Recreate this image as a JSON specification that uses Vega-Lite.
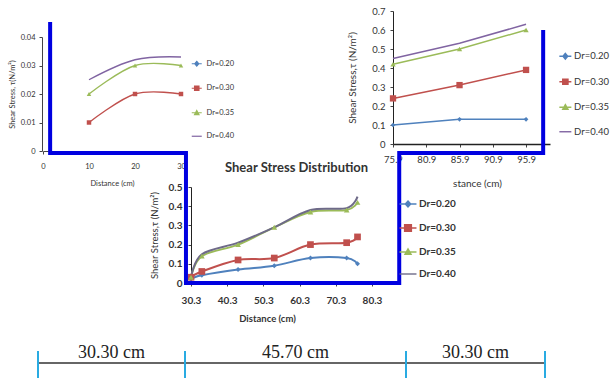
{
  "$schema": "https://vega.github.io/schema/vega-lite/v6.json",
  "width": 610,
  "height": 378,
  "autosize": {"type": "none"},
  "padding": 0,
  "background": "white",
  "config": {
    "view": {"stroke": null},
    "font": "Lato",
    "axis": {"grid": false, "domainColor": "#444", "tickColor": "#444", "labelColor": "#333", "titleColor": "#333", "labelFont": "Lato", "titleFont": "Lato", "tickSize": 3, "titleFontWeight": "normal", "labelOverlap": false, "labelFlush": false},
    "legend": {"labelFont": "Lato", "labelColor": "#333"}
  },
  "title": {"text": "Shear Stress Distribution", "anchor": "start", "frame": "group", "offset": 0, "dx": 225, "dy": 181, "baseline": "middle", "fontSize": 13, "fontWeight": "bold", "color": "#333", "font": "Lato"},
  "datasets": {
    "tl": [
      {"d": 10, "s": "Dr=0.30", "v": 0.010}, {"d": 20, "s": "Dr=0.30", "v": 0.020}, {"d": 30, "s": "Dr=0.30", "v": 0.020},
      {"d": 10, "s": "Dr=0.35", "v": 0.020}, {"d": 20, "s": "Dr=0.35", "v": 0.030}, {"d": 30, "s": "Dr=0.35", "v": 0.030},
      {"d": 10, "s": "Dr=0.40", "v": 0.025}, {"d": 20, "s": "Dr=0.40", "v": 0.032}, {"d": 30, "s": "Dr=0.40", "v": 0.033}
    ],
    "tr": [
      {"d": 75.9, "s": "Dr=0.20", "v": 0.10}, {"d": 85.9, "s": "Dr=0.20", "v": 0.13}, {"d": 95.9, "s": "Dr=0.20", "v": 0.13},
      {"d": 75.9, "s": "Dr=0.30", "v": 0.24}, {"d": 85.9, "s": "Dr=0.30", "v": 0.31}, {"d": 95.9, "s": "Dr=0.30", "v": 0.39},
      {"d": 75.9, "s": "Dr=0.35", "v": 0.42}, {"d": 85.9, "s": "Dr=0.35", "v": 0.50}, {"d": 95.9, "s": "Dr=0.35", "v": 0.60},
      {"d": 75.9, "s": "Dr=0.40", "v": 0.45}, {"d": 85.9, "s": "Dr=0.40", "v": 0.53}, {"d": 95.9, "s": "Dr=0.40", "v": 0.63}
    ],
    "mid": [
      {"d": 30.3, "s": "Dr=0.20", "v": 0.02}, {"d": 33.3, "s": "Dr=0.20", "v": 0.04}, {"d": 43.3, "s": "Dr=0.20", "v": 0.07}, {"d": 53.3, "s": "Dr=0.20", "v": 0.09}, {"d": 63.3, "s": "Dr=0.20", "v": 0.13}, {"d": 73.3, "s": "Dr=0.20", "v": 0.13}, {"d": 76.3, "s": "Dr=0.20", "v": 0.10},
      {"d": 30.3, "s": "Dr=0.30", "v": 0.03}, {"d": 33.3, "s": "Dr=0.30", "v": 0.06}, {"d": 43.3, "s": "Dr=0.30", "v": 0.12}, {"d": 53.3, "s": "Dr=0.30", "v": 0.13}, {"d": 63.3, "s": "Dr=0.30", "v": 0.20}, {"d": 73.3, "s": "Dr=0.30", "v": 0.21}, {"d": 76.3, "s": "Dr=0.30", "v": 0.24},
      {"d": 30.3, "s": "Dr=0.35", "v": 0.03}, {"d": 33.3, "s": "Dr=0.35", "v": 0.14}, {"d": 43.3, "s": "Dr=0.35", "v": 0.20}, {"d": 53.3, "s": "Dr=0.35", "v": 0.29}, {"d": 63.3, "s": "Dr=0.35", "v": 0.37}, {"d": 73.3, "s": "Dr=0.35", "v": 0.38}, {"d": 76.3, "s": "Dr=0.35", "v": 0.42},
      {"d": 30.3, "s": "Dr=0.40", "v": 0.03}, {"d": 33.3, "s": "Dr=0.40", "v": 0.15}, {"d": 43.3, "s": "Dr=0.40", "v": 0.21}, {"d": 53.3, "s": "Dr=0.40", "v": 0.29}, {"d": 63.3, "s": "Dr=0.40", "v": 0.38}, {"d": 73.3, "s": "Dr=0.40", "v": 0.39}, {"d": 76.3, "s": "Dr=0.40", "v": 0.45}
    ],
    "outline": [
      {"i": 0, "cm": 2.5, "lv": 356}, {"i": 1, "cm": 2.5, "lv": 225}, {"i": 2, "cm": 30.5, "lv": 225}, {"i": 3, "cm": 30.5, "lv": 95},
      {"i": 4, "cm": 74.6, "lv": 95}, {"i": 5, "cm": 74.6, "lv": 225}, {"i": 6, "cm": 105.9, "lv": 225}, {"i": 7, "cm": 105.9, "lv": 348}
    ],
    "ruler": [{"c0": 0, "c1": 106.3, "lv": 15}],
    "ticks": [{"cm": 0, "lo": 0, "hi": 27}, {"cm": 30.3, "lo": 0, "hi": 27}, {"cm": 76.0, "lo": 0, "hi": 27}, {"cm": 106.3, "lo": 0, "hi": 27}],
    "seglabels": [{"mid": 15.15, "lv": 20, "label": "30.30 cm"}, {"mid": 53.15, "lv": 20, "label": "45.70 cm"}, {"mid": 91.15, "lv": 20, "label": "30.30 cm"}]
  },
  "layer": [
    {
      "data": {"name": "tl"},
      "encoding": {
        "x": {"field": "d", "type": "quantitative", "scale": {"domain": [0, 30], "range": [43, 181], "nice": false, "zero": false},
              "axis": {"orient": "bottom", "offset": -227, "values": [0, 10, 20, 30], "format": "d", "labelFontSize": 7.5, "labelPadding": 8, "title": "Distance (cm)", "titleFontSize": 7.5, "titleY": 32, "titleBaseline": "middle"}},
        "y": {"field": "v", "type": "quantitative", "scale": {"domain": [0, 0.04], "range": [151, 37], "nice": false, "zero": false},
              "axis": {"orient": "left", "offset": -42, "values": [0, 0.01, 0.02, 0.03, 0.04], "format": ".2~f", "labelFontSize": 7.5, "labelPadding": 4, "title": "Shear Stress, τ(N/m²)", "titleFontSize": 7.5, "titleX": -30, "titleBaseline": "middle"}}
      },
      "layer": [
        {"mark": {"type": "line", "interpolate": "cardinal", "strokeWidth": 1.4},
         "encoding": {"color": {"field": "s", "type": "nominal",
           "scale": {"domain": ["Dr=0.20", "Dr=0.30", "Dr=0.35", "Dr=0.40"], "range": ["#4F81BD", "#C0504D", "#9BBB59", "#8064A2"]},
           "legend": {"orient": "none", "legendX": 193, "legendY": 60, "title": null, "padding": 0, "labelFontSize": 7.5, "symbolSize": 16, "rowPadding": 14.5, "labelOffset": 6,
             "symbolStrokeWidth": 1.2,
             "symbolType": {"expr": "datum.value==='Dr=0.20'?'M-2.5,0H2.5M0,-1.2L1,0L0,1.2L-1,0Z':datum.value==='Dr=0.30'?'M-2.5,0H2.5M-1.1,-1.1H1.1V1.1H-1.1Z':datum.value==='Dr=0.35'?'M-2.5,0H2.5M0,-1.1L1.1,0.9H-1.1Z':'M-2.5,0H2.5'"},
             "symbolFillColor": {"expr": "datum.value==='Dr=0.20'?'#4F81BD':datum.value==='Dr=0.30'?'#C0504D':datum.value==='Dr=0.35'?'#9BBB59':'#8064A2'"},
             "symbolStrokeColor": {"expr": "datum.value==='Dr=0.20'?'#4F81BD':datum.value==='Dr=0.30'?'#C0504D':datum.value==='Dr=0.35'?'#9BBB59':'#8064A2'"}}}}},
        {"transform": [{"filter": "datum.s === 'Dr=0.30'"}], "mark": {"type": "point", "filled": true, "opacity": 1, "size": 20, "shape": "square", "color": "#C0504D"}},
        {"transform": [{"filter": "datum.s === 'Dr=0.35'"}], "mark": {"type": "point", "filled": true, "opacity": 1, "size": 20, "shape": "triangle-up", "color": "#9BBB59"}}
      ]
    },
    {
      "data": {"name": "tr"},
      "encoding": {
        "x": {"field": "d", "type": "quantitative", "scale": {"domain": [75.9, 99.5], "range": [393, 550], "nice": false, "zero": false},
              "axis": {"orient": "bottom", "offset": -234, "values": [75.9, 80.9, 85.9, 90.9, 95.9], "format": ".1f", "domainColor": "#222", "domainWidth": 1.3, "labelFontSize": 9.5, "labelPadding": 7, "title": "stance (cm)", "titleFontSize": 10, "titleX": 477, "titleY": 39, "titleBaseline": "middle"}},
        "y": {"field": "v", "type": "quantitative", "scale": {"domain": [0, 0.7], "range": [144, 11], "nice": false, "zero": false},
              "axis": {"orient": "left", "offset": -393, "values": [0, 0.1, 0.2, 0.3, 0.4, 0.5, 0.6, 0.7], "format": ".1~f", "domainColor": "#222", "labelFontSize": 9.5, "labelPadding": 5, "title": "Shear Stress,τ (N/m²)", "titleFontSize": 10, "titleX": -41, "titleBaseline": "middle"}}
      },
      "layer": [
        {"mark": {"type": "line", "strokeWidth": 1.5},
         "encoding": {"color": {"field": "s", "type": "nominal",
           "scale": {"domain": ["Dr=0.20", "Dr=0.30", "Dr=0.35", "Dr=0.40"], "range": ["#4F81BD", "#C0504D", "#9BBB59", "#8064A2"]},
           "legend": {"orient": "none", "legendX": 560.6, "legendY": 51.5, "title": null, "padding": 0, "labelFontSize": 9.5, "symbolSize": 23, "rowPadding": 13.5, "labelOffset": 4,
             "symbolStrokeWidth": 1.4,
             "symbolType": {"expr": "datum.value==='Dr=0.20'?'M-2.5,0H2.5M0,-1.2L1,0L0,1.2L-1,0Z':datum.value==='Dr=0.30'?'M-2.5,0H2.5M-1.1,-1.1H1.1V1.1H-1.1Z':datum.value==='Dr=0.35'?'M-2.5,0H2.5M0,-1.1L1.1,0.9H-1.1Z':'M-2.5,0H2.5'"},
             "symbolFillColor": {"expr": "datum.value==='Dr=0.20'?'#4F81BD':datum.value==='Dr=0.30'?'#C0504D':datum.value==='Dr=0.35'?'#9BBB59':'#8064A2'"},
             "symbolStrokeColor": {"expr": "datum.value==='Dr=0.20'?'#4F81BD':datum.value==='Dr=0.30'?'#C0504D':datum.value==='Dr=0.35'?'#9BBB59':'#8064A2'"}}}}},
        {"transform": [{"filter": "datum.s === 'Dr=0.20'"}], "mark": {"type": "point", "filled": true, "opacity": 1, "size": 22, "shape": "diamond", "color": "#4F81BD"}},
        {"transform": [{"filter": "datum.s === 'Dr=0.30'"}], "mark": {"type": "point", "filled": true, "opacity": 1, "size": 40, "shape": "square", "color": "#C0504D"}},
        {"transform": [{"filter": "datum.s === 'Dr=0.35'"}], "mark": {"type": "point", "filled": true, "opacity": 1, "size": 28, "shape": "triangle-up", "color": "#9BBB59"}}
      ]
    },
    {
      "data": {"name": "mid"},
      "encoding": {
        "x": {"field": "d", "type": "quantitative", "scale": {"domain": [30.3, 80.3], "range": [191, 372], "nice": false, "zero": false},
              "axis": {"orient": "bottom", "offset": -95, "values": [30.3, 40.3, 50.3, 60.3, 70.3, 80.3], "format": ".1f", "labelFontSize": 10, "labelFontWeight": "bold", "labelPadding": 9, "title": "Distance (cm)", "titleFontSize": 9.5, "titleFontWeight": "bold", "titleX": 267, "titleY": 35, "titleBaseline": "middle"}},
        "y": {"field": "v", "type": "quantitative", "scale": {"domain": [0, 0.5], "range": [283, 187], "nice": false, "zero": false},
              "axis": {"orient": "left", "offset": -191, "values": [0, 0.1, 0.2, 0.3, 0.4, 0.5], "format": ".1~f", "domainColor": "#222", "labelFontSize": 10, "labelFontWeight": "bold", "labelPadding": 6, "title": "Shear Stress,τ (N/m²)", "titleFontSize": 9.5, "titleX": -37, "titleBaseline": "middle"}}
      },
      "layer": [
        {"mark": {"type": "line", "interpolate": "cardinal", "strokeWidth": 2},
         "encoding": {"color": {"field": "s", "type": "nominal",
           "scale": {"domain": ["Dr=0.20", "Dr=0.30", "Dr=0.35", "Dr=0.40"], "range": ["#4F81BD", "#C0504D", "#9BBB59", "#6e6a88"]},
           "legend": {"orient": "none", "legendX": 403, "legendY": 199, "title": null, "padding": 0, "labelFontSize": 10, "labelFontWeight": "bold", "symbolSize": 46, "rowPadding": 11, "labelOffset": 6,
             "symbolStrokeWidth": 1.4,
             "symbolType": {"expr": "datum.value==='Dr=0.20'?'M-2.5,0H2.5M0,-0.9L0.8,0L0,0.9L-0.8,0Z':datum.value==='Dr=0.30'?'M-2.5,0H2.5M-1,-1H1V1H-1Z':datum.value==='Dr=0.35'?'M-2.5,0H2.5M0,-0.9L0.9,0.7H-0.9Z':'M-2.5,0H2.5'"},
             "symbolFillColor": {"expr": "datum.value==='Dr=0.20'?'#4F81BD':datum.value==='Dr=0.30'?'#C0504D':datum.value==='Dr=0.35'?'#9BBB59':'#6e6a88'"},
             "symbolStrokeColor": {"expr": "datum.value==='Dr=0.20'?'#4F81BD':datum.value==='Dr=0.30'?'#C0504D':datum.value==='Dr=0.35'?'#9BBB59':'#6e6a88'"}}}}},
        {"transform": [{"filter": "datum.s === 'Dr=0.20'"}], "mark": {"type": "point", "filled": true, "opacity": 1, "size": 24, "shape": "diamond", "color": "#4F81BD"}},
        {"transform": [{"filter": "datum.s === 'Dr=0.30'"}], "mark": {"type": "point", "filled": true, "opacity": 1, "size": 45, "shape": "square", "color": "#C0504D"}},
        {"transform": [{"filter": "datum.s === 'Dr=0.35'"}], "mark": {"type": "point", "filled": true, "opacity": 1, "size": 32, "shape": "triangle-up", "color": "#9BBB59"}}
      ]
    },
    {
      "layer": [
        {"data": {"name": "outline"},
         "mark": {"type": "line", "color": "#0000e0", "strokeWidth": 4, "strokeJoin": "miter", "strokeCap": "butt"},
         "encoding": {
           "x": {"field": "cm", "type": "quantitative", "scale": {"domain": [0, 30.3, 76, 106.3], "range": [38, 185, 406, 545], "nice": false, "zero": false}, "axis": null},
           "y": {"field": "lv", "type": "quantitative", "scale": {"domain": [0, 378], "range": [378, 0], "nice": false, "zero": false}, "axis": null},
           "order": {"field": "i", "type": "quantitative"}}},
        {"data": {"name": "ruler"},
         "mark": {"type": "rule", "color": "#333", "strokeWidth": 1.5},
         "encoding": {
           "x": {"field": "c0", "type": "quantitative", "scale": {"domain": [0, 30.3, 76, 106.3], "range": [38, 185, 406, 545], "nice": false, "zero": false}, "axis": null},
           "x2": {"field": "c1"},
           "y": {"field": "lv", "type": "quantitative", "scale": {"domain": [0, 378], "range": [378, 0], "nice": false, "zero": false}, "axis": null}}},
        {"data": {"name": "ticks"},
         "mark": {"type": "rule", "color": "#29abe2", "strokeWidth": 2},
         "encoding": {
           "x": {"field": "cm", "type": "quantitative", "scale": {"domain": [0, 30.3, 76, 106.3], "range": [38, 185, 406, 545], "nice": false, "zero": false}, "axis": null},
           "y": {"field": "lo", "type": "quantitative", "scale": {"domain": [0, 378], "range": [378, 0], "nice": false, "zero": false}, "axis": null},
           "y2": {"field": "hi"}}},
        {"data": {"name": "seglabels"},
         "mark": {"type": "text", "font": "Liberation Serif", "fontSize": 18, "color": "#222", "baseline": "alphabetic"},
         "encoding": {
           "x": {"field": "mid", "type": "quantitative", "scale": {"domain": [0, 30.3, 76, 106.3], "range": [38, 185, 406, 545], "nice": false, "zero": false}, "axis": null},
           "y": {"field": "lv", "type": "quantitative", "scale": {"domain": [0, 378], "range": [378, 0], "nice": false, "zero": false}, "axis": null},
           "text": {"field": "label"}}}
      ]
    }
  ],
  "resolve": {
    "scale": {"x": "independent", "y": "independent", "color": "independent"},
    "axis": {"x": "independent", "y": "independent"},
    "legend": {"color": "independent"}
  }
}
